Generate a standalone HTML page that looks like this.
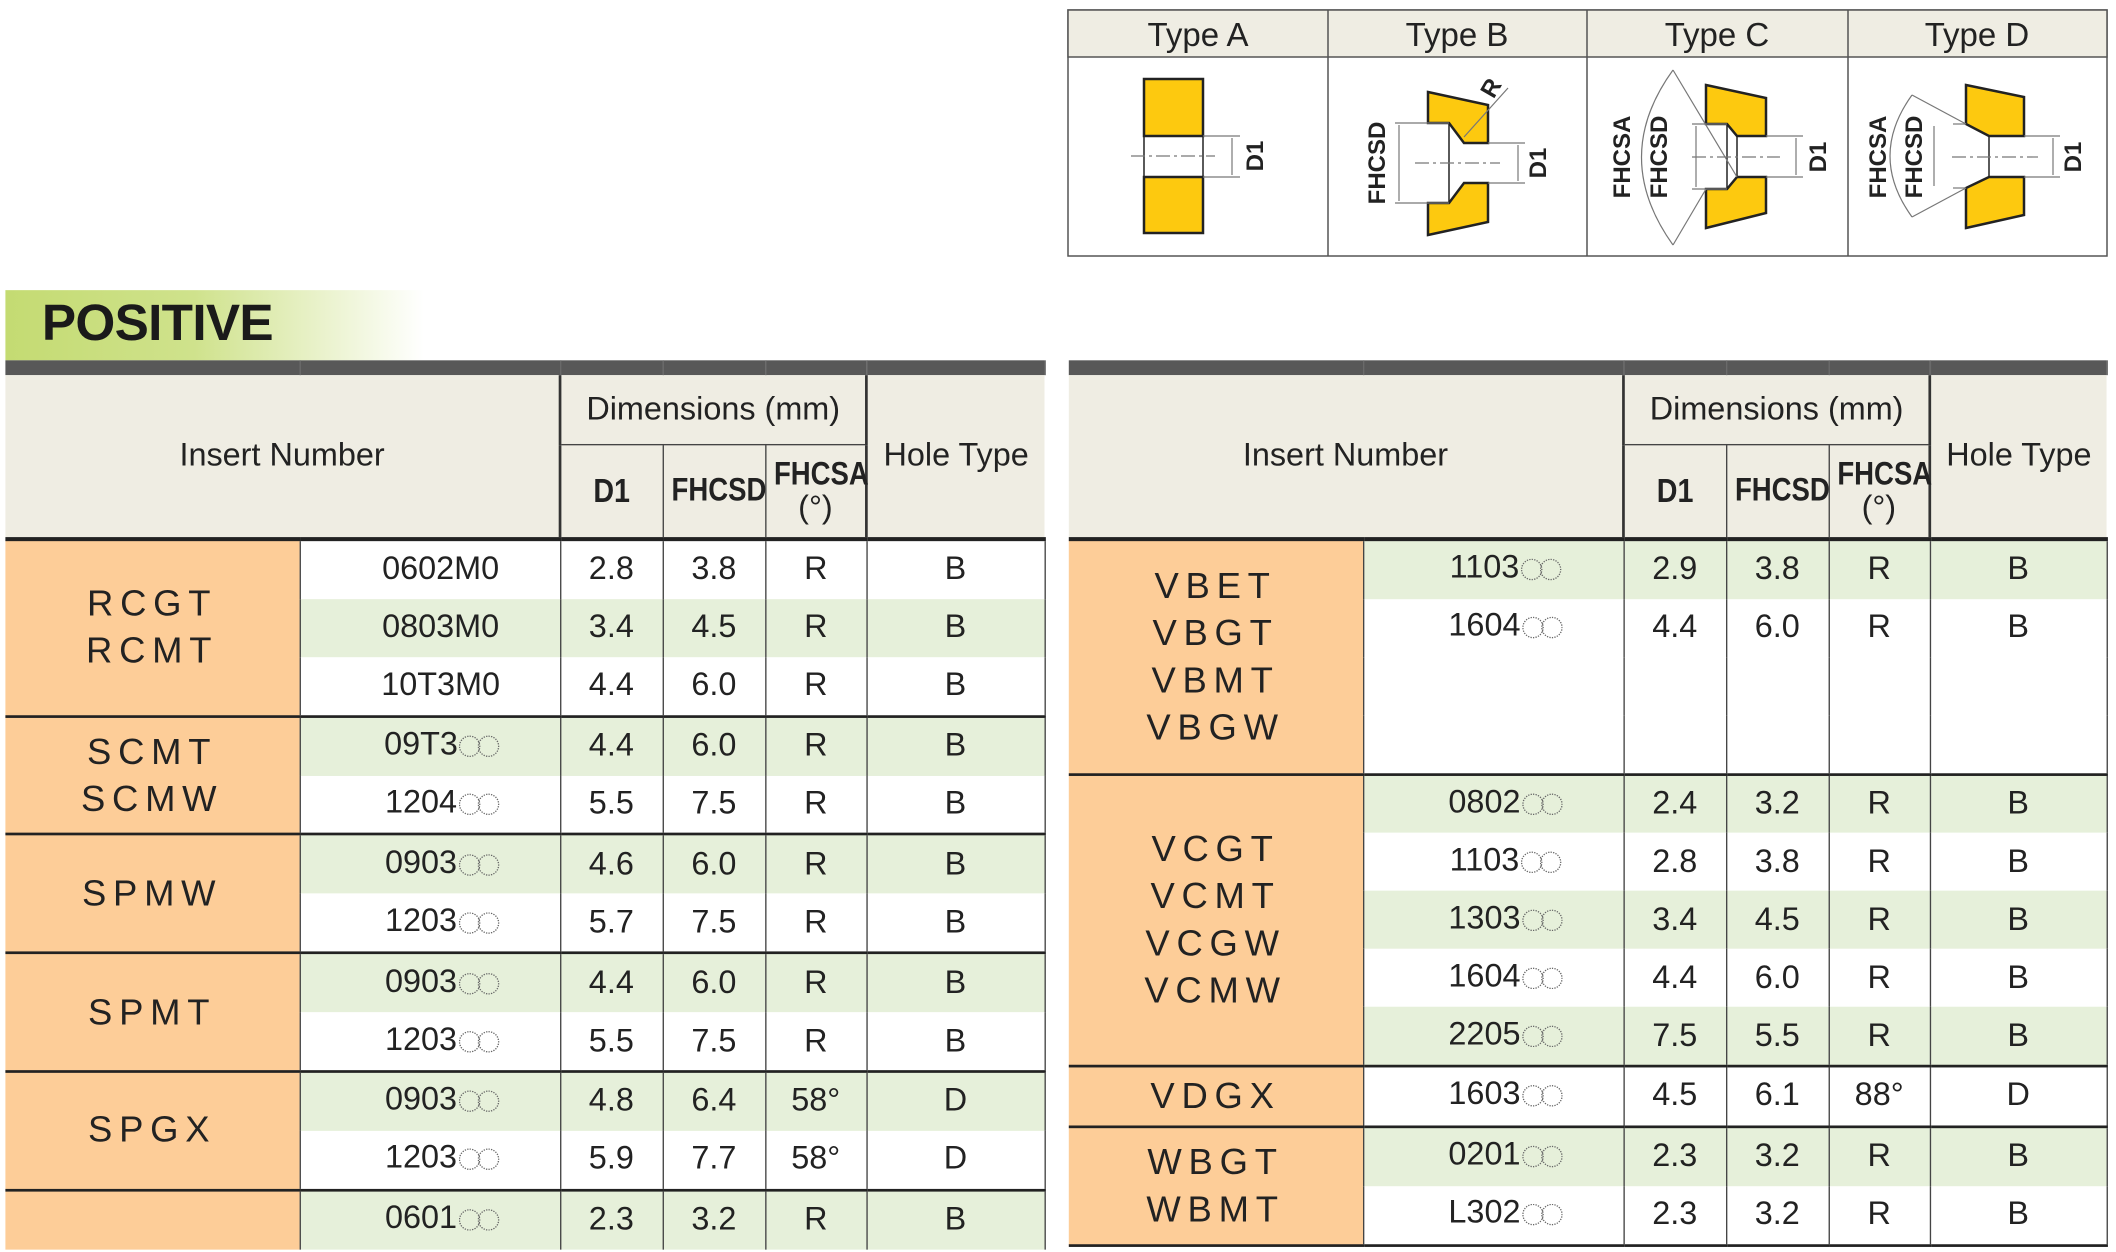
<!DOCTYPE html>
<html><head><meta charset="utf-8"><style>
html,body{margin:0;padding:0;background:#fff;}
body{width:2116px;height:1252px;overflow:hidden;position:relative;font-family:"Liberation Sans",sans-serif;color:#222;}
#wrap{position:absolute;left:0;top:0;width:1568px;height:928px;transform:scale(1.3495);transform-origin:0 0;}
.banner{position:absolute;left:4px;top:215px;width:310px;height:52px;background:linear-gradient(90deg,#c4db72 0%,#cfe28c 45%,#fff 100%);}
.banner span{position:absolute;left:27px;top:4px;font-size:38px;font-weight:bold;color:#1a1a1a;letter-spacing:-0.5px;}
table{position:absolute;border-collapse:collapse;table-layout:fixed;}
td{padding:0;text-align:center;vertical-align:middle;font-size:24px;border-left:1.5px solid #444;border-right:1.5px solid #444;}
.bar td{background:#585858;height:11px;border:none;border-right:1px solid #6a6a6a;}
.h td{background:#efede3;font-size:24px;}
.h1 td{height:51px;}
.h2 td{height:68px;}
.hb{font-weight:bold;transform:scaleX(0.85);}
.grp{background:#fdcd98;font-size:27px;letter-spacing:5px;line-height:35px;}
tr.d td{height:42.9px;}
tr.d td:nth-last-child(5){padding-left:16px;}
.g{background:#e6f0da;}
.top td{border-top:2.5px solid #222;}
.first td{border-top:3px solid #222;}
.last td{border-bottom:2.5px solid #222;}
.cc{display:inline-block;vertical-align:-2px;margin-left:1px;}
.cc i{display:inline-block;width:16px;height:16px;border:1px dotted #666;border-radius:50%;margin-right:-2px;box-sizing:border-box;}
</style></head><body>
<div id="wrap">
<div class="banner"><span>POSITIVE</span></div>

<table style="left:4px;top:267px;width:770px;">
<colgroup><col style="width:218px"><col style="width:193px"><col style="width:76px"><col style="width:76px"><col style="width:75px"><col style="width:132px"></colgroup>
<tr class="bar"><td></td><td></td><td></td><td></td><td></td><td></td></tr>
<tr class="h h1"><td colspan="2" rowspan="2" style="border-left:none">Insert Number</td><td colspan="3" style="border-bottom:1.5px solid #444;border-left:2px solid #333;border-right:2px solid #333">Dimensions (mm)</td><td rowspan="2" style="border-right:none">Hole Type</td></tr>
<tr class="h h2"><td style="border-left:2px solid #333"><div class="hb" style="font-size:25px">D1</div></td><td><div class="hb">FHCSD</div></td><td style="border-right:2px solid #333;line-height:25px"><div class="hb">FHCSA</div>(°)</td></tr>
<tr class="d first"><td class="grp" rowspan="3" style="border-left:none">RCGT<br>RCMT</td><td>0602M0</td><td>2.8</td><td>3.8</td><td>R</td><td>B</td></tr>
<tr class="d"><td class="g">0803M0</td><td class="g">3.4</td><td class="g">4.5</td><td class="g">R</td><td class="g">B</td></tr>
<tr class="d"><td>10T3M0</td><td>4.4</td><td>6.0</td><td>R</td><td>B</td></tr>
<tr class="d top"><td class="grp" rowspan="2" style="border-left:none">SCMT<br>SCMW</td><td class="g">09T3<span class="cc"><i></i><i></i></span></td><td class="g">4.4</td><td class="g">6.0</td><td class="g">R</td><td class="g">B</td></tr>
<tr class="d"><td>1204<span class="cc"><i></i><i></i></span></td><td>5.5</td><td>7.5</td><td>R</td><td>B</td></tr>
<tr class="d top"><td class="grp" rowspan="2" style="border-left:none">SPMW</td><td class="g">0903<span class="cc"><i></i><i></i></span></td><td class="g">4.6</td><td class="g">6.0</td><td class="g">R</td><td class="g">B</td></tr>
<tr class="d"><td>1203<span class="cc"><i></i><i></i></span></td><td>5.7</td><td>7.5</td><td>R</td><td>B</td></tr>
<tr class="d top"><td class="grp" rowspan="2" style="border-left:none">SPMT</td><td class="g">0903<span class="cc"><i></i><i></i></span></td><td class="g">4.4</td><td class="g">6.0</td><td class="g">R</td><td class="g">B</td></tr>
<tr class="d"><td>1203<span class="cc"><i></i><i></i></span></td><td>5.5</td><td>7.5</td><td>R</td><td>B</td></tr>
<tr class="d top"><td class="grp" rowspan="2" style="border-left:none">SPGX</td><td class="g">0903<span class="cc"><i></i><i></i></span></td><td class="g">4.8</td><td class="g">6.4</td><td class="g">58°</td><td class="g">D</td></tr>
<tr class="d"><td>1203<span class="cc"><i></i><i></i></span></td><td>5.9</td><td>7.7</td><td>58°</td><td>D</td></tr>
<tr class="d top"><td class="grp" style="border-left:none"></td><td class="g">0601<span class="cc"><i></i><i></i></span></td><td class="g">2.3</td><td class="g">3.2</td><td class="g">R</td><td class="g">B</td></tr>
</table>

<table style="left:792px;top:267px;width:769px;">
<colgroup><col style="width:218px"><col style="width:193px"><col style="width:76px"><col style="width:76px"><col style="width:75px"><col style="width:131px"></colgroup>
<tr class="bar"><td></td><td></td><td></td><td></td><td></td><td></td></tr>
<tr class="h h1"><td colspan="2" rowspan="2" style="border-left:none">Insert Number</td><td colspan="3" style="border-bottom:1.5px solid #444;border-left:2px solid #333;border-right:2px solid #333">Dimensions (mm)</td><td rowspan="2" style="border-right:none">Hole Type</td></tr>
<tr class="h h2"><td style="border-left:2px solid #333"><div class="hb" style="font-size:25px">D1</div></td><td><div class="hb">FHCSD</div></td><td style="border-right:2px solid #333;line-height:25px"><div class="hb">FHCSA</div>(°)</td></tr>
<tr class="d first"><td class="grp" rowspan="4" style="border-left:none">VBET<br>VBGT<br>VBMT<br>VBGW</td><td class="g">1103<span class="cc"><i></i><i></i></span></td><td class="g">2.9</td><td class="g">3.8</td><td class="g">R</td><td class="g">B</td></tr>
<tr class="d"><td>1604<span class="cc"><i></i><i></i></span></td><td>4.4</td><td>6.0</td><td>R</td><td>B</td></tr>
<tr class="d"><td></td><td></td><td></td><td></td><td></td></tr>
<tr class="d"><td></td><td></td><td></td><td></td><td></td></tr>
<tr class="d top"><td class="grp" rowspan="5" style="border-left:none">VCGT<br>VCMT<br>VCGW<br>VCMW</td><td class="g">0802<span class="cc"><i></i><i></i></span></td><td class="g">2.4</td><td class="g">3.2</td><td class="g">R</td><td class="g">B</td></tr>
<tr class="d"><td>1103<span class="cc"><i></i><i></i></span></td><td>2.8</td><td>3.8</td><td>R</td><td>B</td></tr>
<tr class="d"><td class="g">1303<span class="cc"><i></i><i></i></span></td><td class="g">3.4</td><td class="g">4.5</td><td class="g">R</td><td class="g">B</td></tr>
<tr class="d"><td>1604<span class="cc"><i></i><i></i></span></td><td>4.4</td><td>6.0</td><td>R</td><td>B</td></tr>
<tr class="d"><td class="g">2205<span class="cc"><i></i><i></i></span></td><td class="g">7.5</td><td class="g">5.5</td><td class="g">R</td><td class="g">B</td></tr>
<tr class="d top"><td class="grp" style="border-left:none">VDGX</td><td>1603<span class="cc"><i></i><i></i></span></td><td>4.5</td><td>6.1</td><td>88°</td><td>D</td></tr>
<tr class="d top"><td class="grp" rowspan="2" style="border-left:none;border-bottom:2.5px solid #222">WBGT<br>WBMT</td><td class="g">0201<span class="cc"><i></i><i></i></span></td><td class="g">2.3</td><td class="g">3.2</td><td class="g">R</td><td class="g">B</td></tr>
<tr class="d last"><td>L302<span class="cc"><i></i><i></i></span></td><td>2.3</td><td>3.2</td><td>R</td><td>B</td></tr>
</table>
</div>

<svg style="position:absolute;left:0;top:0" width="2116" height="270" viewBox="0 0 2116 270" font-family="Liberation Sans, sans-serif">
<rect x="1068" y="10" width="1039" height="246" fill="#fff" stroke="#555" stroke-width="1.5"/>
<rect x="1068" y="10" width="1039" height="47" fill="#efede3" stroke="#555" stroke-width="1.5"/>
<g stroke="#555" stroke-width="1.5"><line x1="1328" y1="10" x2="1328" y2="256"/><line x1="1587" y1="10" x2="1587" y2="256"/><line x1="1848" y1="10" x2="1848" y2="256"/></g>
<g font-size="33" text-anchor="middle" fill="#222"><text x="1198" y="46">Type A</text><text x="1457" y="46">Type B</text><text x="1717" y="46">Type C</text><text x="1977" y="46">Type D</text></g>
<g fill="#fdc90f" stroke="#222" stroke-width="2.5">
<rect x="1144" y="79" width="59" height="57"/><rect x="1144" y="177" width="59" height="56"/>
<polygon points="1428,92 1488,105 1488,143 1464,143 1449,123 1428,123"/>
<polygon points="1428,235 1488,222 1488,183 1464,183 1449,203 1428,203"/>
<polygon points="1706,85 1766,98 1766,136 1737,136 1727,124 1706,124"/>
<polygon points="1706,228 1766,213 1766,177 1737,177 1727,189 1706,189"/>
<polygon points="1966,85 2024,97 2024,136 1989,136 1966,124"/>
<polygon points="1966,228 2024,215 2024,177 1989,177 1966,188"/>
</g>
<g stroke="#222" stroke-width="1.5" fill="none">
<line x1="1144" y1="136" x2="1144" y2="177"/><line x1="1203" y1="136" x2="1203" y2="177"/>
<line x1="1449" y1="123" x2="1449" y2="203"/><line x1="1727" y1="124" x2="1727" y2="189"/><line x1="1737" y1="136" x2="1737" y2="177"/><line x1="1989" y1="136" x2="1989" y2="177"/>
</g>
<g stroke="#777" stroke-width="1.2" fill="none">
<line x1="1203" y1="136" x2="1240" y2="136"/><line x1="1203" y1="177" x2="1240" y2="177"/><line x1="1232" y1="138" x2="1232" y2="175"/>
<line x1="1131" y1="156" x2="1215" y2="156" stroke-dasharray="14 4 3 4"/>
<line x1="1395" y1="123" x2="1449" y2="123"/><line x1="1395" y1="203" x2="1449" y2="203"/><line x1="1399" y1="125" x2="1399" y2="201"/>
<line x1="1488" y1="143" x2="1525" y2="143"/><line x1="1488" y1="183" x2="1525" y2="183"/><line x1="1518" y1="145" x2="1518" y2="181"/>
<line x1="1415" y1="163" x2="1500" y2="163" stroke-dasharray="14 4 3 4"/>
<line x1="1508" y1="88" x2="1464" y2="137"/>
<line x1="1692" y1="124" x2="1727" y2="124"/><line x1="1692" y1="189" x2="1727" y2="189"/><line x1="1696" y1="126" x2="1696" y2="187"/>
<line x1="1766" y1="136" x2="1803" y2="136"/><line x1="1766" y1="177" x2="1803" y2="177"/><line x1="1796" y1="138" x2="1796" y2="175"/>
<line x1="1692" y1="157" x2="1780" y2="157" stroke-dasharray="14 4 3 4"/>
<path d="M1673,70 Q1610,157 1673,245"/><line x1="1673" y1="70" x2="1737" y2="177"/><line x1="1673" y1="245" x2="1706" y2="189"/>
<line x1="1953" y1="124" x2="1966" y2="124"/><line x1="1953" y1="188" x2="1966" y2="188"/><line x1="1934" y1="126" x2="1934" y2="186"/>
<line x1="2024" y1="136" x2="2060" y2="136"/><line x1="2024" y1="177" x2="2060" y2="177"/><line x1="2053" y1="138" x2="2053" y2="175"/>
<line x1="1952" y1="157" x2="2038" y2="157" stroke-dasharray="14 4 3 4"/>
<path d="M1912,95 Q1868,156 1912,217"/><line x1="1912" y1="95" x2="1966" y2="124"/><line x1="1912" y1="217" x2="1966" y2="188"/>
</g>
<g font-size="24" font-weight="bold" fill="#222" text-anchor="middle">
<text transform="translate(1263,156) rotate(-90)">D1</text>
<text transform="translate(1546,163) rotate(-90)">D1</text>
<text transform="translate(1385,163) rotate(-90)">FHCSD</text>
<text transform="translate(1498,92) rotate(-60)">R</text>
<text transform="translate(1630,157) rotate(-90)">FHCSA</text>
<text transform="translate(1667,157) rotate(-90)">FHCSD</text>
<text transform="translate(1826,157) rotate(-90)">D1</text>
<text transform="translate(1886,157) rotate(-90)">FHCSA</text>
<text transform="translate(1922,157) rotate(-90)">FHCSD</text>
<text transform="translate(2081,157) rotate(-90)">D1</text>
</g>
</svg>
</body></html>
